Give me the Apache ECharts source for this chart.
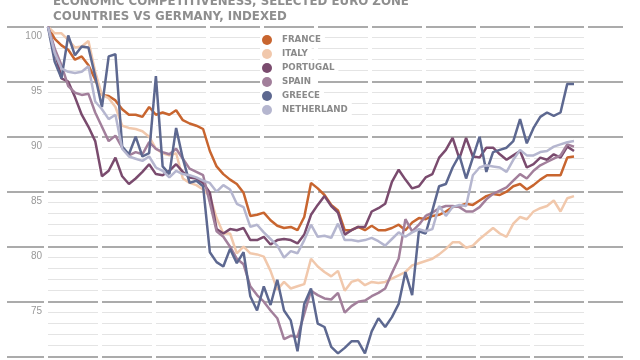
<!DOCTYPE html>
<html>
<head>
<meta charset="utf-8">
<script src="https://cdn.jsdelivr.net/npm/echarts/dist/echarts.min.js"></script>
<style>
html,body{margin:0;padding:0;background:#fff;}
#chart{width:640px;height:360px;}
</style>
</head>
<body>
<div id="chart"></div>
<script>
// ---- data (index, first period = 100) ----
const countries = ['FRANCE', 'ITALY', 'PORTUGAL', 'SPAIN', 'GREECE', 'NETHERLAND'];
const colors = ['#c8652f', '#f1c8ac', '#7a4b6e', '#a27f9b', '#5d6890', '#b5b6cf'];
const yTicks = [70, 75, 80, 85, 90, 95, 100];

const france = [100, 98.9, 98.3, 97.9, 97.0, 97.3, 96.5, 95.2, 93.8, 93.7,
  93.3, 92.5, 92.0, 92.0, 91.8, 92.7, 92.0, 92.2, 92.0, 92.4,
  91.5, 91.2, 91.0, 90.7, 88.7, 87.3, 86.6, 86.1, 85.7, 84.9,
  82.8, 82.9, 83.1, 82.4, 81.9, 81.7, 81.8, 81.5, 82.7, 85.8,
  85.3, 84.7, 83.8, 83.3, 81.5, 81.5, 81.8, 81.5, 81.9, 81.5,
  81.5, 81.7, 82.0, 81.5, 82.2, 82.6, 82.5, 82.8, 82.9, 83.2,
  83.6, 83.7, 83.9, 83.8, 84.2, 84.6, 84.8, 84.7, 85.0, 85.5,
  85.7, 85.2, 85.6, 86.1, 86.5, 86.5, 86.5, 88.1, 88.2];
const italy = [100, 99.4, 99.4, 98.8, 98.1, 98.2, 98.7, 95.9, 93.8, 93.5,
  92.7, 91.0, 90.8, 90.7, 90.5, 90.0, 88.9, 88.5, 88.3, 88.5,
  86.2, 85.8, 85.6, 85.2, 84.6, 82.6, 81.2, 81.2, 79.4, 80.0,
  79.4, 79.3, 79.1, 77.8, 76.1, 76.8, 76.2, 76.4, 76.6, 78.9,
  78.2, 77.7, 77.3, 77.8, 76.0, 76.8, 77.0, 76.5, 76.8, 76.7,
  76.8, 77.1, 77.4, 77.7, 78.3, 78.5, 78.7, 78.9, 79.3, 79.8,
  80.4, 80.4, 79.9, 80.1, 80.7, 81.2, 81.7, 81.2, 80.9, 82.1,
  82.7, 82.5, 83.2, 83.5, 83.7, 84.2, 83.2, 84.4, 84.6];
const portugal = [100, 97.8, 95.3, 95.0, 93.6, 92.0, 90.9, 89.6, 86.4, 86.9,
  88.1, 86.4, 85.7, 86.2, 86.8, 87.5, 86.6, 86.5, 86.9, 87.5,
  86.8, 86.3, 86.2, 85.8, 84.9, 81.6, 81.2, 81.6, 81.5, 81.7,
  80.6, 80.6, 80.9, 80.2, 80.6, 80.7, 80.6, 80.3, 81.1, 82.9,
  83.8, 84.6, 83.7, 83.1, 81.1, 81.5, 81.8, 81.8, 83.2, 83.5,
  83.9, 85.9, 87.0, 86.1, 85.3, 85.5, 86.3, 86.6, 88.1, 88.8,
  89.9, 88.0, 89.9, 88.2, 88.1, 89.0, 89.0, 88.4, 87.9, 88.3,
  88.7, 87.2, 87.5, 88.1, 87.9, 88.4, 88.1, 89.1, 88.7];
const spain = [100, 98.0, 96.5, 94.6, 94.0, 93.8, 93.9, 92.2, 90.9, 89.6,
  90.1, 89.0, 88.3, 88.6, 88.4, 89.5, 88.9, 88.6, 88.4, 88.9,
  88.0, 87.1, 86.8, 86.5, 84.0, 81.4, 80.9, 80.0, 78.9, 78.4,
  76.4, 75.6, 75.0, 74.2, 73.5, 71.6, 71.9, 71.8, 73.9, 76.0,
  75.6, 75.3, 75.2, 75.8, 74.0, 74.6, 75.0, 75.1, 75.5, 75.8,
  76.2, 77.6, 78.9, 82.5, 81.4, 82.0, 82.8, 83.1, 83.5, 83.7,
  83.7, 83.6, 83.2, 83.2, 83.6, 84.3, 84.8, 85.1, 85.4, 86.0,
  86.6, 86.2, 86.9, 87.4, 87.7, 88.0, 88.3, 89.3, 89.1];
const greece = [100, 96.8, 95.3, 99.2, 97.4, 98.2, 98.1, 95.5, 92.7, 97.3,
  97.5, 89.1, 88.4, 90.0, 88.2, 88.5, 95.5, 87.3, 86.6, 90.8,
  88.0, 85.8, 86.0, 85.5, 79.5, 78.6, 78.2, 79.8, 78.5, 79.5,
  75.5, 74.2, 76.4, 74.7, 77.0, 74.2, 73.3, 70.5, 74.8, 76.2,
  73.0, 72.7, 70.9, 70.3, 70.8, 71.4, 71.4, 70.3, 72.3, 73.5,
  72.7, 73.6, 74.8, 77.7, 75.6, 81.4, 81.2, 83.3, 85.5, 85.7,
  87.2, 88.3, 86.2, 88.1, 90.0, 86.8, 88.6, 88.8, 89.0, 89.6,
  91.6, 89.4, 90.8, 91.8, 92.2, 91.9, 92.2, 94.8, 94.8];
const netherland = [100, 97.6, 96.2, 95.9, 95.8, 95.9, 96.4, 93.2, 92.5, 91.6,
  92.0, 88.9, 88.2, 88.0, 87.8, 88.2, 87.2, 86.9, 86.3, 86.9,
  86.6, 86.5, 86.3, 86.0, 85.8, 85.0, 85.6, 85.2, 83.9, 83.6,
  81.8, 82.0, 81.3, 80.7, 80.1, 79.0, 79.6, 79.4, 80.6, 82.0,
  80.9, 81.0, 80.8, 82.1, 80.6, 80.6, 80.5, 80.6, 80.8, 80.5,
  80.1, 80.7, 81.3, 80.9, 81.3, 81.6, 81.4, 81.6, 83.7, 82.8,
  83.6, 83.8, 83.7, 86.5, 87.2, 87.4, 87.3, 87.2, 86.8, 87.9,
  88.8, 88.3, 88.3, 88.6, 88.7, 89.1, 89.3, 89.5, 89.6];

const seriesValues = [france, italy, portugal, spain, greece, netherland];
const periods = france.map((_, i) => 'P' + (i + 1));

// ---- chart ----
const chart = echarts.init(document.getElementById('chart'), null, {renderer: 'canvas'});
const yMin = yTicks[0], yMax = yTicks[yTicks.length - 1];
const plotTop = 26.7, plotH = 330;

const option = {
  backgroundColor: '#fff',
  animation: false,
  title: {
    text: 'ECONOMIC COMPETITIVENESS, SELECTED EURO ZONE\nCOUNTRIES VS GERMANY, INDEXED',
    left: 53, top: -6, padding: 0,
    textStyle: {fontFamily: 'DejaVu Sans', fontWeight: 'bold', fontSize: 11.8, color: '#8e8e8e', lineHeight: 15}
  },
  legend: countries.map((name, i) => ({
    data: [name], left: 262, top: 33 + 14 * i, orient: 'vertical',
    icon: 'circle', itemWidth: 10, itemHeight: 10, selectedMode: false,
    backgroundColor: '#fff', padding: [2, 4, 2, 0], z: 10,
    textStyle: {color: '#8a8a8a', fontSize: 8.7, fontWeight: 'bold', fontFamily: 'DejaVu Sans', padding: [0, 0, 0, 5]}
  })),
  grid: [
    {left: 7, right: 17, top: plotTop, height: plotH},
    {left: 48, right: 56, top: plotTop, height: plotH},
    {left: 48, right: 66, top: plotTop, height: plotH}
  ],
  xAxis: [
    {gridIndex: 0, type: 'value', min: 0, max: 1, show: false},
    {gridIndex: 1, type: 'value', min: 0, max: 1, show: false},
    {gridIndex: 2, type: 'category', data: periods, boundaryGap: false, show: false}
  ],
  yAxis: [
    {gridIndex: 0, type: 'value', min: yMin, max: yMax, interval: 5, z: 1,
      axisLine: {show: false}, axisTick: {show: false}, axisLabel: {show: false},
      splitLine: {show: true, lineStyle: {color: '#ababab', width: 2, type: [50, 4], dashOffset: 13}}},
    {gridIndex: 1, type: 'value', min: yMin, max: yMax, interval: 1, z: 0,
      axisLine: {show: false}, axisTick: {show: false}, axisLabel: {show: false},
      splitLine: {show: true, lineStyle: {color: '#e4e4e4', width: 1, type: [50, 4], dashOffset: 0}}},
    {gridIndex: 2, type: 'value', min: yMin, max: yMax, interval: 5, z: 2,
      axisLine: {show: false}, axisTick: {show: false}, splitLine: {show: false},
      axisLabel: {show: true, showMinLabel: false, color: '#999', fontSize: 10, fontFamily: 'Liberation Sans',
        margin: 6, verticalAlign: 'top', padding: [5, 0, 0, 0]}}
  ],
  series: countries.map((name, i) => ({
    name: name, type: 'line', xAxisIndex: 2, yAxisIndex: 2,
    data: seriesValues[i], showSymbol: false, symbol: 'none', smooth: false,
    color: colors[i], z: 3,
    lineStyle: {color: colors[i], width: 2.5},
    emphasis: {disabled: true}
  }))
};
chart.setOption(option);
</script>
</body>
</html>
